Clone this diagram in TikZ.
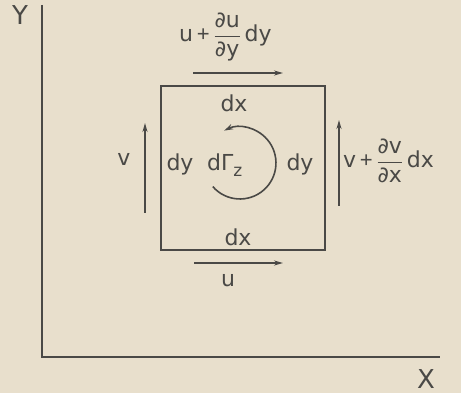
\documentclass[tikz,border=0pt]{standalone}
\usepackage{fontspec}
\usepackage{amsmath}
\setmainfont{DejaVu Sans}
\newfontfamily\plusfont{Liberation Sans}
\usetikzlibrary{arrows.meta}
\definecolor{bg}{HTML}{E8DFCC}
\definecolor{ink}{HTML}{4A4946}
\newcommand{\pfrac}[2]{\ensuremath{\genfrac{}{}{1.3pt}{0}{\text{#1}}{\text{#2}}}}
\newcommand{\plus}{\,{\plusfont +}\,}
\begin{document}
\begin{tikzpicture}[x=1pt,y=1pt,
  lbl/.style={inner sep=0pt, anchor=base, text=ink, font=\fontsize{22}{26}\selectfont},
  axlbl/.style={inner sep=0pt, anchor=base, text=ink, font=\fontsize{26}{30}\selectfont},
  axisline/.style={draw=ink, line width=2.2pt},
  elemedge/.style={draw=ink, line width=1.8pt},
  vel/.style={draw=ink, line width=1.6pt, -{Stealth[length=9pt,width=5pt]}},
  circ/.style={draw=ink, line width=1.6pt, -{Stealth[length=9pt,width=5.5pt]}}]
\fill[bg] (0,0) rectangle (461,-393);
\useasboundingbox (0,0) rectangle (461,-393);
% axes
\coordinate (ytop) at (42,-5);
\coordinate (origin) at (42,-357);
\coordinate (xend) at (440,-357);
\draw[axisline] (ytop) -- (origin) -- (xend);
\node[axlbl] (ylab) at (20,-25) {Y};
\node[axlbl] (xlab) at (426,-388) {X};
% element
\node[elemedge, minimum width=164pt, minimum height=164pt, inner sep=0pt] (elem) at (243,-168) {};
% velocity arrows
\coordinate (ta) at (193,-73); \coordinate (tb) at (283,-73);
\coordinate (ba) at (194,-263); \coordinate (bb) at (283,-263);
\coordinate (la) at (145,-213); \coordinate (lb) at (145,-123);
\coordinate (ra) at (339,-206); \coordinate (rb) at (339,-120);
\draw[vel] (ta) -- (tb);
\draw[vel] (ba) -- (bb);
\draw[vel] (la) -- (lb);
\draw[vel] (ra) -- (rb);
% labels
\node[lbl, anchor=base west] (utop) at (179,-42) {u\plus\pfrac{∂u}{∂y}\,dy};
\node[lbl, anchor=base west] (vright) at (343,-168) {v\plus\pfrac{∂v}{∂x}\,dx};
\node[lbl] (dxtop) at (234,-112) {dx};
\node[lbl] (dxbot) at (238,-246) {dx};
\node[lbl] (dyleft) at (180,-171) {dy};
\node[lbl] (dyright) at (300,-171) {dy};
\node[lbl, anchor=base west] (gamma) at (207,-171) {dΓ\raisebox{-6pt}{\fontsize{17}{17}\selectfont z}};
\node[lbl] (vleft) at (124,-166) {v};
\node[lbl] (ubot) at (228,-287) {u};
% circulation
\coordinate (cs) at (212.8,-186.6);
\draw[circ] (cs) arc[start angle=-139, end angle=116, radius=36];
\end{tikzpicture}
\end{document}
